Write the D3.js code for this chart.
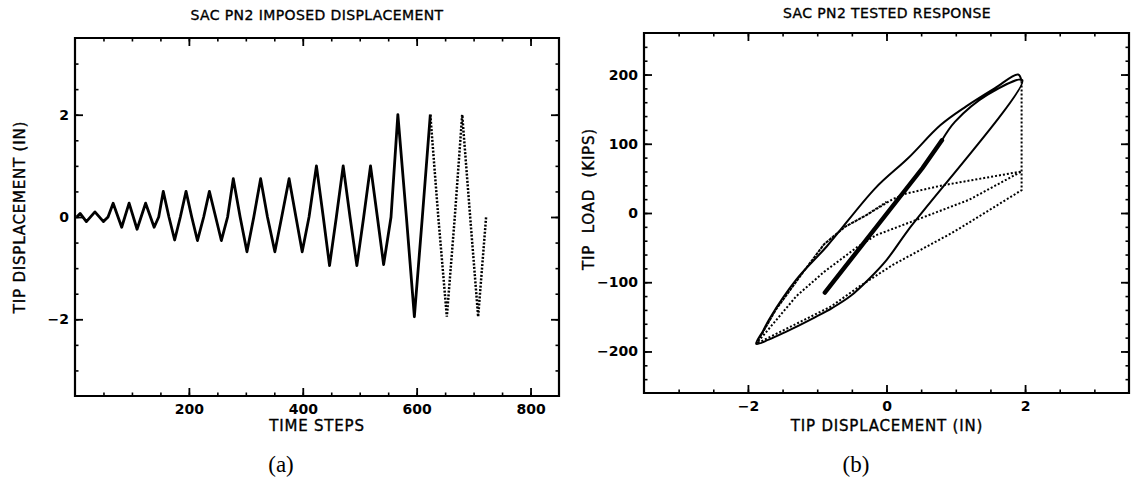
<!DOCTYPE html>
<html>
<head>
<meta charset="utf-8">
<script src="https://cdn.jsdelivr.net/npm/d3@7"></script>
<style>
  body { margin: 0; background: #fff; }
  svg text { font-family: "DejaVu Sans", sans-serif; fill: #000; }
</style>
</head>
<body>
<div id="container"></div>
<script>
/* CONSTANTS AND GLOBALS */
const width = 1131,
  height = 482;

/* DATA */
// (a) imposed displacement history, solid part then dotted part
const stepSolid = [3, 9, 20, 35, 50, 58, 67, 82, 95, 109, 124, 139, 147, 155, 165, 175, 185, 195, 205, 215, 226, 236, 247, 257,
  268, 278, 290, 302, 314, 326, 338, 351, 363, 376, 388, 399, 411, 424, 436, 447, 459, 471, 483, 495, 507, 519, 531, 542,
  555, 567, 582, 596, 610, 624];
const dispSolid = [0, 0.07, -0.09, 0.1, -0.09, 0, 0.27, -0.2, 0.27, -0.24, 0.27, -0.2, 0, 0.5, 0, -0.45, 0, 0.5, 0, -0.46, 0, 0.5, 0, -0.46,
  0, 0.75, 0, -0.68, 0, 0.75, 0, -0.68, 0, 0.75, 0, -0.68, 0, 1.0, 0, -0.95, 0, 1.0, 0, -0.95, 0, 1.0, 0, -0.93,
  0, 2.0, 0, -1.95, 0, 2.0];
const stepDotted = [624, 638, 653, 667, 680, 694, 708, 722];
const dispDotted = [2.0, 0, -1.95, 0, 2.0, 0, -1.95, 0];

// (b) tested response, tip displacement (in) vs tip load (kips)
const elasticDisp = [-0.89, 0.52, 0.8];
const elasticLoad = [-115, 65, 105];
const solidDisp = [0.8, 0.99, 1.46, 1.96, 0.31, 0, -0.26, -0.52, -0.78, -1.04, -1.46, -1.7, -1.88,
  -1.78, -1.69, -1.3, -0.86, -0.16, 0.31, 0.78, 1.15, 1.56, 1.9, 1.95];
const solidLoad = [105, 132, 171, 192, -25, -68, -96, -120, -137, -151, -172, -183, -189,
  -170, -153, -96, -48, 36, 79, 127, 154, 180, 200, 190];
const dottedDisp = [1.95, 1.95, 1.14, 0.94, 0.09, -0.39, -0.8, -1.3, -1.88,
  -1.6, -1.2, -0.9, -0.6, -0.29, 0.09, 0.28, 0.81, 1.95,
  1.19, 0.43, -0.15, -0.42, -0.9, -1.3, -1.88,
  -1.6, -1.2, -0.9, -0.6, -0.29, 0];
const dottedLoad = [190, 33, -17, -29, -75, -106, -135, -160, -189,
  -140, -85, -45, -20, -3, 20, 28, 40, 60,
  19, -10, -32, -49, -85, -120, -189,
  -140, -85, -45, -20, -3, 16];

// tick values
const aMajorX = [200, 400, 600, 800];
const aMinorX = d3.range(50, 850, 50);
const aMajorY = [-2, 0, 2];
const aMinorY = d3.range(-3, 3.01, 0.5);
const bMajorX = [-2, 0, 2];
const bMinorX = d3.range(-3, 3.01, 0.5);
const bMajorY = [-200, -100, 0, 100, 200];
const bMinorY = d3.range(-240, 241, 20);

const svg = d3.select("#container")
  .append("svg")
  .attr("width", width)
  .attr("height", height);

/* SCALES */
const ax = d3.scaleLinear().domain([0, 850]).range([75, 559]);
const ay = d3.scaleLinear().domain([-3.5, 3.5]).range([396, 38]);
const bx = d3.scaleLinear().domain([-3.5, 3.5]).range([644, 1129]);
const by = d3.scaleLinear().domain([-260, 260]).range([393, 33]);

// draws a boxed frame with inward ticks on all four sides
function frame(xs, ys, majX, minX, majY, minY) {
  const [x0, x1] = xs.range();
  const [y1, y0] = ys.range();
  const g = svg.append("g");

  const sides = [
    {axis: d3.axisBottom, s: xs, t: `translate(0,${y1})`, lab: true},
    {axis: d3.axisTop, s: xs, t: `translate(0,${y0})`, lab: false},
    {axis: d3.axisLeft, s: ys, t: `translate(${x0},0)`, lab: true},
    {axis: d3.axisRight, s: ys, t: `translate(${x1},0)`, lab: false}
  ];
  sides.forEach(d => {
    const isX = d.s === xs;
    const minor = d.axis(d.s).tickValues(isX ? minX : minY).tickSize(-3.5).tickFormat("");
    const major = d.axis(d.s).tickValues(isX ? majX : majY).tickSize(-8).tickPadding(isX ? 8 : 6)
      .tickFormat(d.lab ? (v => v < 0 ? "\u2212" + Math.abs(v) : v) : "");
    g.append("g").attr("transform", d.t).call(minor)
      .call(a => a.select(".domain").remove())
      .selectAll("line").attr("stroke", "#000").attr("stroke-width", 1.6);
    g.append("g").attr("transform", d.t).call(major)
      .call(a => a.select(".domain").remove())
      .call(a => a.selectAll("line").attr("stroke", "#000").attr("stroke-width", 1.8))
      .selectAll("text")
      .style("font-family", "DejaVu Sans, sans-serif")
      .style("font-size", "14px")
      .style("font-weight", "bold")
      .attr("fill", "#000");
  });

  g.append("path")
    .attr("d", `M${x0},${y0}H${x1}V${y1}H${x0}Z`)
    .attr("fill", "none")
    .attr("stroke", "#000")
    .attr("stroke-width", 2.2);
}

frame(ax, ay, aMajorX, aMinorX, aMajorY, aMinorY);
frame(bx, by, bMajorX, bMinorX, bMajorY, bMinorY);

/* LINES */
const lineA = d3.line().x(d => ax(d[0])).y(d => ay(d[1]));
const lineB = d3.line().x(d => bx(d[0])).y(d => by(d[1]));

svg.append("path")
  .datum(d3.zip(stepSolid, dispSolid))
  .attr("d", lineA)
  .attr("fill", "none").attr("stroke", "#000")
  .attr("stroke-width", 2.8).attr("stroke-linejoin", "round");

svg.append("path")
  .datum(d3.zip(stepDotted, dispDotted))
  .attr("d", lineA)
  .attr("fill", "none").attr("stroke", "#000")
  .attr("stroke-width", 2.5).attr("stroke-dasharray", "2,1.6");

svg.append("path")
  .datum(d3.zip(elasticDisp, elasticLoad))
  .attr("d", lineB)
  .attr("fill", "none").attr("stroke", "#000")
  .attr("stroke-width", 4.4).attr("stroke-linecap", "round");

svg.append("path")
  .datum(d3.zip(solidDisp, solidLoad))
  .attr("d", lineB.curve(d3.curveCatmullRom))
  .attr("fill", "none").attr("stroke", "#000")
  .attr("stroke-width", 2).attr("stroke-linejoin", "round");

svg.append("path")
  .datum(d3.zip(dottedDisp, dottedLoad))
  .attr("d", lineB.curve(d3.curveLinear))
  .attr("fill", "none").attr("stroke", "#000")
  .attr("stroke-width", 2).attr("stroke-dasharray", "2,2");

/* TEXT */
function label(x, y, txt, size, opts = {}) {
  const t = svg.append("text")
    .attr("x", x).attr("y", y)
    .attr("text-anchor", "middle")
    .style("font-size", size + "px")
    .style("letter-spacing", (opts.ls || 0) + "px")
    .style("word-spacing", (opts.ws || 0) + "px")
    .text(txt);
  if (opts.rotate) t.attr("transform", `rotate(-90,${x},${y})`);
  if (opts.serif) t.style("font-family", "'Liberation Serif', serif");
  if (opts.heavy) t.attr("stroke", "#000").attr("stroke-width", 0.35);
  return t;
}

label(317, 20, "SAC PN2 IMPOSED DISPLACEMENT", 14, {ls: 0.4, heavy: true});
label(887, 18, "SAC PN2 TESTED RESPONSE", 14, {ls: 0.4, heavy: true});
label(317, 431, "TIME STEPS", 15, {ls: 0.8, heavy: true});
label(887, 431, "TIP DISPLACEMENT (IN)", 15, {ls: 0.8, heavy: true});
label(25, 217, "TIP DISPLACEMENT (IN)", 15, {rotate: true, ls: 0.8, heavy: true});
label(594, 199, "TIP LOAD (KIPS)", 15, {rotate: true, ls: 0.8, ws: 6, heavy: true});
label(281, 472, "(a)", 23, {serif: true});
label(856, 472, "(b)", 23, {serif: true});
</script>
</body>
</html>
